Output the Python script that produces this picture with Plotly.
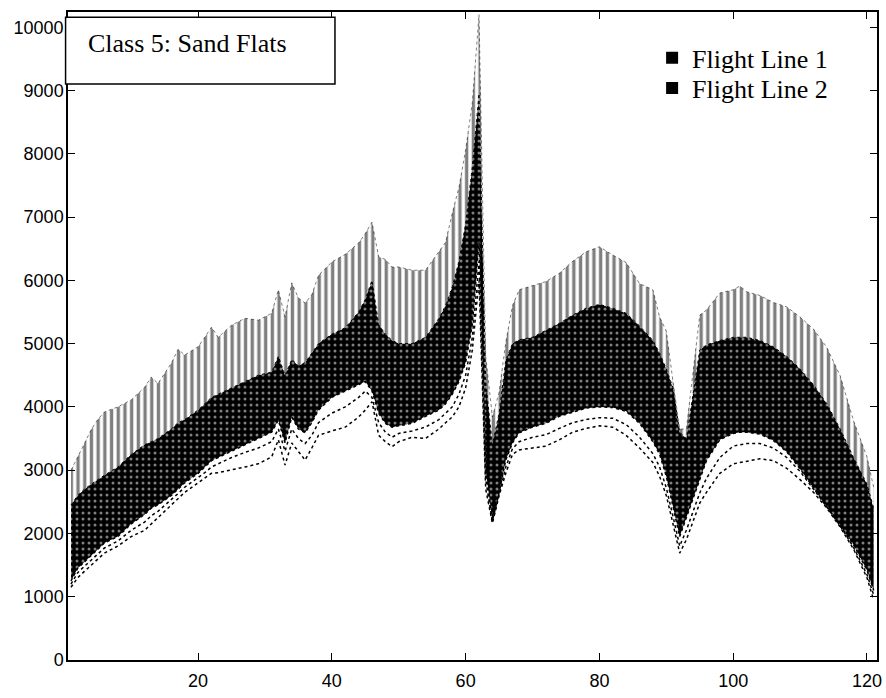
import plotly.graph_objects as go

# Spectral band index (sampled)
bands = [1, 2, 3, 4, 5, 6, 8, 10, 12, 13, 14, 16, 17, 18, 20, 21, 22, 23, 25, 27, 29,
         31, 32, 33, 34, 35, 36, 37, 38, 40, 42, 44, 45, 46, 47, 48, 49, 50, 52, 54,
         56, 57, 58, 59, 60, 61, 62, 63, 64, 65, 66, 67, 68, 70, 72, 74, 76, 78, 80,
         82, 84, 86, 88, 89, 90, 91, 92, 93, 94, 95, 96, 98, 100, 101, 102, 104, 106,
         108, 110, 112, 114, 116, 118, 120, 121]

# Flight Line 1: highest spectra (top of the vertical streaks)
fl1_upper = [3000, 3200, 3420, 3640, 3800, 3920, 4000, 4110, 4310, 4470, 4370, 4690, 4910, 4820,
             4950, 5100, 5260, 5100, 5290, 5400, 5370, 5480, 5850, 5420, 5960, 5720, 5640, 5770,
             6080, 6290, 6410, 6590, 6740, 6920, 6370, 6330, 6210, 6210, 6160, 6160, 6450, 6600,
             7060, 7470, 8060, 8810, 10200, 4800, 3840, 4230, 5020, 5600, 5850, 5920, 5980, 6110,
             6300, 6450, 6530, 6400, 6280, 5950, 5850, 5420, 5200, 4400, 3650, 3650, 4600, 5450,
             5530, 5800, 5850, 5910, 5820, 5760, 5650, 5580, 5420, 5230, 4940, 4490, 3780, 3210,
             2730]

# Flight Line 1: top of the dense bundle of spectra
fl1_dense_top = [2450, 2600, 2700, 2780, 2850, 2920, 3050, 3250, 3400, 3450, 3500, 3650, 3750, 3800,
                 3950, 4050, 4150, 4200, 4300, 4400, 4500, 4550, 4800, 4500, 4750, 4650, 4700, 4850,
                 5000, 5150, 5250, 5500, 5700, 6000, 5300, 5150, 5050, 5000, 5000, 5100, 5400, 5600,
                 5900, 6300, 6900, 7800, 8950, 4400, 3400, 3900, 4740, 5000, 5060, 5100, 5210, 5320,
                 5450, 5560, 5620, 5560, 5480, 5280, 5050, 4850, 4600, 4300, 3600, 3500, 4200, 4900,
                 4980, 5050, 5100, 5100, 5100, 5050, 4950, 4800, 4600, 4350, 4050, 3650, 3200, 2780,
                 2400]

# Bottom of the dense bundle
dense_bottom = [1250, 1450, 1550, 1650, 1750, 1850, 1950, 2150, 2300, 2400, 2450, 2600, 2700, 2800,
                2950, 3050, 3150, 3200, 3300, 3400, 3500, 3600, 3790, 3430, 3840, 3650, 3590, 3750,
                3950, 4150, 4250, 4350, 4400, 4250, 3900, 3740, 3680, 3700, 3740, 3850, 3950, 4050,
                4200, 4400, 4700, 5300, 6600, 3000, 2200, 2640, 3160, 3430, 3590, 3680, 3740, 3850,
                3920, 3980, 4000, 3990, 3930, 3740, 3450, 3250, 2900, 2450, 1950, 2250, 2550, 2850,
                3150, 3480, 3580, 3600, 3600, 3570, 3470, 3290, 3020, 2720, 2420, 2120, 1820, 1420,
                1100]

# Flight Line 2: two lowest dotted spectra
fl2_mid = [1200, 1380, 1480, 1580, 1680, 1770, 1880, 2050, 2180, 2280, 2350, 2530, 2630, 2730,
           2880, 2960, 3050, 3100, 3200, 3280, 3350, 3450, 3650, 3300, 3650, 3500, 3420, 3550,
           3750, 3900, 4000, 4150, 4250, 4150, 3750, 3600, 3520, 3580, 3620, 3680, 3800, 3900,
           4000, 4200, 4500, 5100, 6300, 2850, 2180, 2620, 3050, 3340, 3450, 3520, 3560, 3660,
           3750, 3800, 3830, 3820, 3720, 3520, 3260, 3050, 2720, 2270, 1800, 2050, 2350, 2640,
           2870, 3200, 3380, 3400, 3420, 3420, 3350, 3200, 2980, 2700, 2420, 2120, 1780, 1350,
           1030]

fl2_low = [1150, 1300, 1400, 1500, 1600, 1690, 1800, 1950, 2050, 2150, 2250, 2450, 2550, 2650,
           2800, 2870, 2950, 2960, 3000, 3050, 3100, 3210, 3480, 3080, 3430, 3300, 3160, 3350,
           3550, 3620, 3680, 3840, 3950, 4080, 3550, 3450, 3370, 3450, 3520, 3500, 3650, 3750,
           3840, 4000, 4300, 4900, 6000, 2700, 2160, 2600, 2950, 3250, 3320, 3350, 3380, 3480,
           3600, 3660, 3700, 3680, 3550, 3350, 3120, 2900, 2600, 2150, 1690, 1900, 2200, 2480,
           2650, 2950, 3100, 3120, 3150, 3180, 3150, 3030, 2850, 2650, 2400, 2100, 1750, 1300,
           950]

legend_names = ["Flight Line 1", "Flight Line 2"]
box_title = "Class 5: Sand Flats"
x_ticks = [20, 40, 60, 80, 100, 120]
y_ticks = [0, 1000, 2000, 3000, 4000, 5000, 6000, 7000, 8000, 9000, 10000]
y_tick_text = [str(v) for v in y_ticks]

fig = go.Figure()

fig.add_trace(go.Scatter(
    x=bands, y=dense_bottom, mode="lines",
    line=dict(color="black", width=1.5, dash="dot"),
    showlegend=False, hoverinfo="skip"))
fig.add_trace(go.Scatter(
    x=bands, y=fl1_dense_top, mode="lines",
    line=dict(color="black", width=1, dash="dot"),
    fill="tonexty",
    fillpattern=dict(shape=".", bgcolor="black", fgcolor="white", size=6, solidity=0.2),
    showlegend=False, hoverinfo="skip"))
fig.add_trace(go.Scatter(
    x=bands, y=fl1_upper, mode="lines",
    line=dict(color="black", width=0.5, dash="dot"),
    fill="tonexty",
    fillpattern=dict(shape="|", bgcolor="white", fgcolor="black", size=6.7, solidity=0.5),
    showlegend=False, hoverinfo="skip"))
fig.add_trace(go.Scatter(
    x=bands, y=fl2_mid, mode="lines",
    line=dict(color="black", width=1.5, dash="dot"),
    showlegend=False, hoverinfo="skip"))
fig.add_trace(go.Scatter(
    x=bands, y=fl2_low, mode="lines",
    line=dict(color="black", width=1.5, dash="dot"),
    showlegend=False, hoverinfo="skip"))

legend_keys = ["legend", "legend2"]
for name, key in zip(legend_names, legend_keys):
    fig.add_trace(go.Scatter(
        x=[None], y=[None], mode="markers", name=name, legend=key,
        marker=dict(symbol="square", size=12, color="black")))

fig.add_shape(type="rect", xref="paper", yref="paper",
              x0=-0.003, x1=0.33, y0=0.889, y1=0.992,
              line=dict(color="black", width=1.5), fillcolor="white", layer="above")
fig.add_annotation(text=box_title, xref="paper", yref="paper", x=0.022, y=0.952,
                   xanchor="left", yanchor="middle", showarrow=False,
                   font=dict(family="Liberation Serif", size=26, color="black"))

axis_common = dict(showline=True, linecolor="black", linewidth=1.5, mirror="ticks",
                   ticks="inside", ticklen=7, tickcolor="black", tickwidth=1.2,
                   showgrid=False, zeroline=False, automargin=False,
                   ticklabeloverflow="allow",
                   tickfont=dict(family="Liberation Sans", size=18, color="black"))

legend_common = dict(xanchor="left", yanchor="top", bgcolor="rgba(0,0,0,0)",
                     itemwidth=30, borderwidth=0,
                     font=dict(family="Liberation Serif", size=26, color="black"))

fig.update_layout(
    width=886, height=698,
    margin=dict(l=68, r=9, t=12, b=38),
    paper_bgcolor="white", plot_bgcolor="white",
    xaxis=dict(range=[0.55, 121.5], tickvals=x_ticks, ticklabelstandoff=4, **axis_common),
    yaxis=dict(range=[0, 10240], tickvals=y_ticks, ticktext=y_tick_text,
               ticklabelstandoff=-1, **axis_common),
    legend=dict(x=0.722, y=0.9656, **legend_common),
    legend2=dict(x=0.722, y=0.919, **legend_common),
)

# remove the browser's default 8 px page margin so the figure fills the window
fig.write_html("out.html", config={"displayModeBar": False},
               post_script="document.body.style.margin='0';")
